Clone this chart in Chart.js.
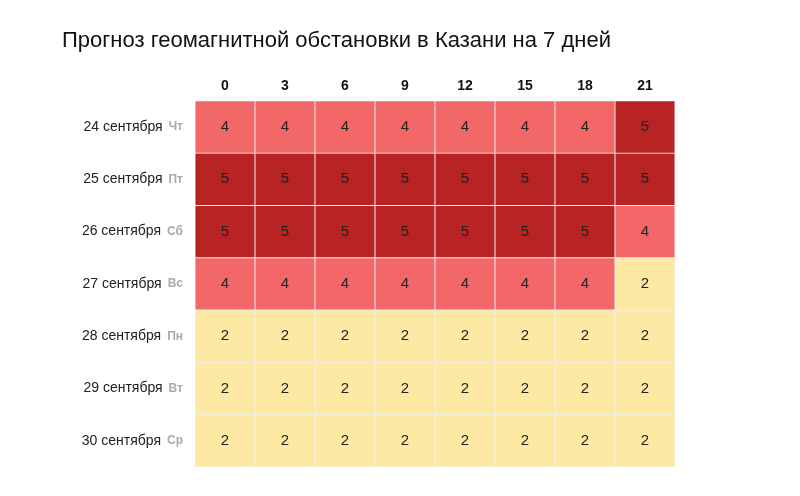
<!DOCTYPE html>
<html lang="ru">
<head>
<meta charset="UTF-8">
<script src="https://cdn.jsdelivr.net/npm/chart.js"></script>
<style>
  body { margin: 0; background: #fff; }
  .wrap { width: 800px; height: 496px; }
</style>
</head>
<body>
<div class="wrap"><canvas id="c" width="800" height="496"></canvas></div>
<script>
const hours = ['0', '3', '6', '9', '12', '15', '18', '21'];
const days = ['24 сентября', '25 сентября', '26 сентября', '27 сентября', '28 сентября', '29 сентября', '30 сентября'];
const weekdays = ['Чт', 'Пт', 'Сб', 'Вс', 'Пн', 'Вт', 'Ср'];
const kp = [
  [4, 4, 4, 4, 4, 4, 4, 5],
  [5, 5, 5, 5, 5, 5, 5, 5],
  [5, 5, 5, 5, 5, 5, 5, 4],
  [4, 4, 4, 4, 4, 4, 4, 2],
  [2, 2, 2, 2, 2, 2, 2, 2],
  [2, 2, 2, 2, 2, 2, 2, 2],
  [2, 2, 2, 2, 2, 2, 2, 2]
];

const FONT = '"Liberation Sans", Arial, sans-serif';
const colorFor = v => v >= 5 ? '#b82323' : v >= 4 ? '#f26868' : '#fde8a4';

const datasets = kp.map((row, r) => ({
  label: days[r],
  data: row.map(() => [r - 0.5, r + 0.5]),
  values: row,
  backgroundColor: row.map(colorFor),
  borderColor: 'rgba(235,235,235,0.7)',
  borderWidth: 0.8,
  borderSkipped: false,
  barPercentage: 1,
  categoryPercentage: 1,
  grouped: false
}));

const labelsPlugin = {
  id: 'labels',
  afterDraw(chart) {
    const ctx = chart.ctx;
    const y = chart.scales.y;
    ctx.save();
    ctx.fillStyle = '#111';
    ctx.font = '22px ' + FONT;
    ctx.textBaseline = 'middle';
    ctx.textAlign = 'left';
    ctx.fillText('Прогноз геомагнитной обстановки в Казани на 7 дней', 62, 41);

    chart.data.datasets.forEach((ds, r) => {
      const meta = chart.getDatasetMeta(r);
      meta.data.forEach((bar, i) => {
        ctx.fillStyle = '#222';
        ctx.font = '15px ' + FONT;
        ctx.textAlign = 'center';
        ctx.fillText(String(ds.values[i]), bar.x, (bar.y + bar.base) / 2);
      });
      const py = y.getPixelForValue(r);
      ctx.textAlign = 'right';
      ctx.fillStyle = '#aaa';
      ctx.font = 'bold 12px ' + FONT;
      ctx.fillText(weekdays[r], 183, py);
      const w = ctx.measureText(weekdays[r]).width;
      ctx.fillStyle = '#222';
      ctx.font = '14px ' + FONT;
      ctx.fillText(days[r], 183 - w - 6, py);
    });
    ctx.restore();
  }
};

new Chart(document.getElementById('c'), {
  type: 'bar',
  data: { labels: hours, datasets },
  options: {
    responsive: false,
    animation: false,
    layout: { padding: { left: 195, right: 125, top: 72, bottom: 29 } },
    plugins: { legend: { display: false }, tooltip: { enabled: false } },
    scales: {
      x: {
        position: 'top',
        grid: { display: false, drawTicks: false },
        border: { display: false },
        ticks: { color: '#111', padding: 6, font: { size: 14, weight: 'bold', family: FONT } }
      },
      y: {
        type: 'linear', min: -0.5, max: 6.5, reverse: true, display: false
      }
    }
  },
  plugins: [labelsPlugin]
});
</script>
</body>
</html>
